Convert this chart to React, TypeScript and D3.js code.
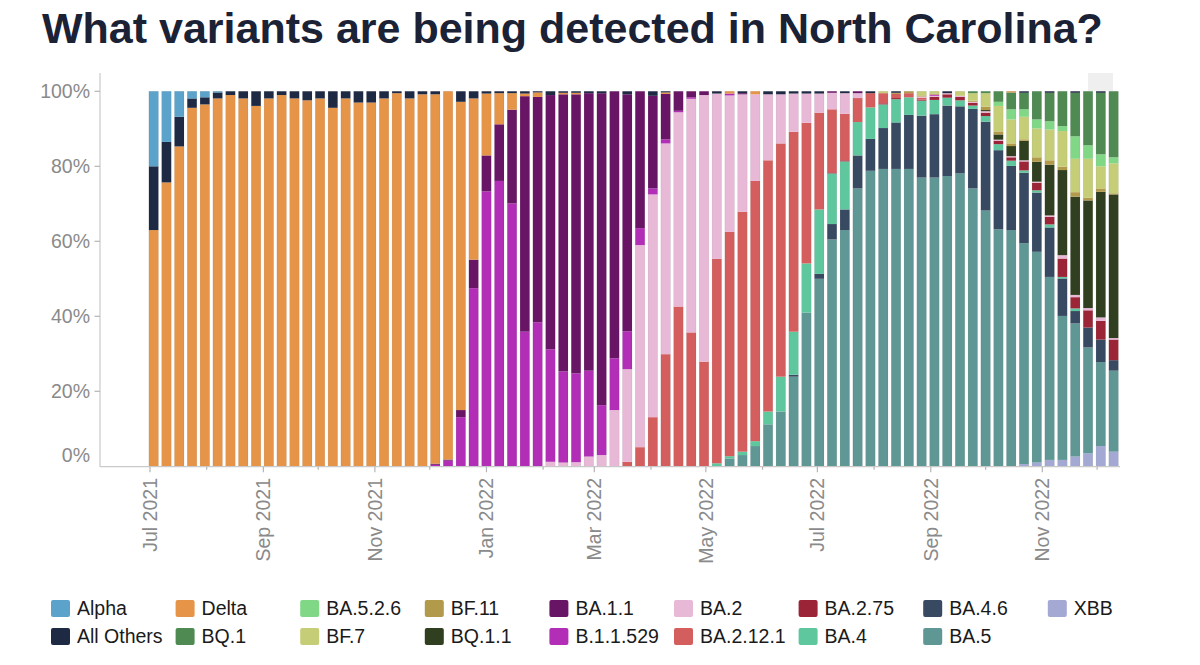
import React from "react";
import * as d3 from "d3";

// Weekly share of sequenced cases by variant (percent), one entry per week ending Saturday
const alpha = [
  20, 13.5, 6.8, 1.9, 1.6, 0.3, 0, 0, 0, 0,
  0, 0, 0, 0, 0, 0, 0, 0, 0, 0,
  0, 0, 0, 0, 0, 0, 0, 0, 0, 0,
  0, 0, 0, 0, 0, 0, 0, 0, 0, 0,
  0, 0, 0, 0, 0, 0, 0, 0, 0, 0,
  0, 0, 0, 0, 0, 0, 0, 0, 0, 0,
  0, 0, 0, 0, 0, 0, 0, 0, 0, 0,
  0, 0, 0, 0, 0, 0,
];
const allOthers = [
  17, 10.8, 7.9, 2.5, 1.9, 1.6, 1.0, 1.9, 3.9, 1.9,
  1.0, 1.9, 2.4, 1.9, 4.4, 1.9, 3.0, 3.0, 1.9, 0.5,
  1.9, 0.8, 0.8, 0, 2.8, 1.9, 0.6, 0.5, 0.5, 0.6,
  0.3, 1.0, 0.4, 0.4, 0.5, 0.5, 0, 0.8, 0, 1.2,
  0.3, 0, 0, 0, 0.6, 0, 0.5, 0, 0.8, 0.8,
  0.6, 0.6, 0.6, 0, 0.5, 0, 0.5, 0, 0.4, 0,
  0, 0, 0.5, 0, 0, 0, 0, 0, 0.4, 0,
  0.4, 0, 0.4, 0, 0.4, 0,
];
const delta = [
  63, 75.7, 85.3, 95.6, 96.5, 98.1, 99, 98.1, 96.1, 98.1,
  99, 98.1, 97.6, 98.1, 95.6, 98.1, 97, 97, 98.1, 99.5,
  98.1, 99.2, 98.5, 98.2, 82.2, 43.0, 16.5, 8.3, 4.4, 0.7,
  1.2, 0, 0.4, 0.4, 0, 0, 0, 0, 0, 0,
  0.4, 0, 0, 0, 0, 0.6, 0, 0.8, 0, 0,
  0, 0, 0, 0, 0, 0, 0, 0, 0, 0,
  0, 0, 0, 0, 0, 0, 0, 0.3, 0, 0,
  0, 0, 0, 0, 0, 0,
];
const bq1 = [
  0, 0, 0, 0, 0, 0, 0, 0, 0, 0,
  0, 0, 0, 0, 0, 0, 0, 0, 0, 0,
  0, 0, 0, 0, 0, 0, 0, 0, 0, 0,
  0, 0, 0, 0, 0, 0, 0, 0, 0, 0,
  0, 0, 0, 0, 0, 0, 0, 0, 0, 0,
  0, 0, 0, 0, 0, 0, 0, 0, 0, 0,
  0, 0, 0, 0, 0.5, 0.5, 2.8, 4.5, 4.4, 7.5,
  7.6, 9.3, 11.6, 14.4, 16.4, 17.6,
];
const ba526 = [
  0, 0, 0, 0, 0, 0, 0, 0, 0, 0,
  0, 0, 0, 0, 0, 0, 0, 0, 0, 0,
  0, 0, 0, 0, 0, 0, 0, 0, 0, 0,
  0, 0, 0, 0, 0, 0, 0, 0, 0, 0,
  0, 0, 0, 0, 0, 0, 0, 0, 0, 0,
  0, 0, 0, 0, 0, 0, 0, 0, 0, 0,
  0, 0, 0, 0, 0, 0, 1.1, 2.7, 2.0, 2.4,
  2.2, 1.3, 6.0, 3.6, 3.2, 1.6,
];
const bf7 = [
  0, 0, 0, 0, 0, 0, 0, 0, 0, 0,
  0, 0, 0, 0, 0, 0, 0, 0, 0, 0,
  0, 0, 0, 0, 0, 0, 0, 0, 0, 0,
  0, 0, 0, 0, 0, 0, 0, 0, 0, 0,
  0, 0, 0, 0, 0, 0, 0, 0, 0, 0,
  0, 0, 0, 0, 0, 0, 0, 0.5, 0, 0,
  1.1, 0.6, 0, 1.2, 2.0, 3.6, 6.8, 6.4, 6.0, 7.7,
  8.2, 9.5, 8.9, 10.4, 5.9, 8.0,
];
const bf11 = [
  0, 0, 0, 0, 0, 0, 0, 0, 0, 0,
  0, 0, 0, 0, 0, 0, 0, 0, 0, 0,
  0, 0, 0, 0, 0, 0, 0, 0, 0, 0,
  0, 0, 0, 0, 0, 0, 0, 0, 0, 0,
  0, 0, 0, 0, 0, 0, 0, 0, 0, 0,
  0, 0, 0, 0, 0, 0, 0, 0, 0.3, 0.5,
  0.3, 0.3, 0, 0, 0.3, 0.9, 0.8, 0.7, 0.4, 1.2,
  1.2, 0.9, 1.2, 0.7, 0.9, 0.3,
];
const bq11 = [
  0, 0, 0, 0, 0, 0, 0, 0, 0, 0,
  0, 0, 0, 0, 0, 0, 0, 0, 0, 0,
  0, 0, 0, 0, 0, 0, 0, 0, 0, 0,
  0, 0, 0, 0, 0, 0, 0, 0, 0, 0,
  0, 0, 0, 0, 0, 0, 0, 0, 0, 0,
  0, 0, 0, 0, 0, 0, 0, 0, 0, 0,
  0, 0, 0, 0, 0, 0.3, 1.4, 2.7, 5.2, 5.3,
  13.5, 22.7, 26.2, 28.7, 33.5, 38.3,
];
const ba11 = [
  0, 0, 0, 0, 0, 0, 0, 0, 0, 0,
  0, 0, 0, 0, 0, 0, 0, 0, 0, 0,
  0, 0, 0.3, 0.3, 1.9, 7.6, 9.6, 15.1, 25.0, 62.8,
  60.1, 67.8, 73.9, 74.4, 74.0, 83.2, 71.2, 63.2, 36.5, 24.7,
  12.1, 5.2, 1.6, 1.0, 0, 0, 0.3, 0, 0, 0,
  0, 0, 0, 0.4, 0, 0.5, 0, 0, 0, 0,
  0, 0, 0, 0, 0, 0, 0, 0, 0, 0,
  0, 0, 0, 0, 0, 0,
];
const b11529 = [
  0, 0, 0, 0, 0, 0, 0, 0, 0, 0,
  0, 0, 0, 0, 0, 0, 0, 0, 0, 0,
  0, 0, 0.4, 1.5, 13.1, 47.5, 73.3, 76.1, 70.1, 35.9,
  38.4, 30.0, 24.3, 23.7, 22.9, 13.3, 13.8, 10.1, 4.5, 1.6,
  1.1, 0.4, 0.4, 0, 0, 0.5, 0, 0, 0, 0,
  0, 0, 0, 0, 0, 0, 0, 0, 0, 0,
  0, 0.3, 0, 0, 0, 0, 0, 0, 0, 0,
  0, 0, 0, 0, 0, 0,
];
const ba2 = [
  0, 0, 0, 0, 0, 0, 0, 0, 0, 0,
  0, 0, 0, 0, 0, 0, 0, 0, 0, 0,
  0, 0, 0, 0, 0, 0, 0, 0, 0, 0,
  0, 1.2, 1.0, 1.1, 2.6, 3.0, 15.0, 24.7, 53.9, 59.4,
  56.2, 51.8, 62.3, 71.1, 44.1, 36.4, 31.3, 23.1, 17.6, 13.1,
  10.2, 7.8, 5.1, 4.4, 5.5, 1.3, 0, 0, 0, 0,
  0.3, 0.3, 0.3, 0.3, 0.3, 0.4, 0.3, 0.3, 0.3, 0.3,
  0.4, 0.9, 0.6, 0.6, 0.9, 0.4,
];
const ba2121 = [
  0, 0, 0, 0, 0, 0, 0, 0, 0, 0,
  0, 0, 0, 0, 0, 0, 0, 0, 0, 0,
  0, 0, 0, 0, 0, 0, 0, 0, 0, 0,
  0, 0, 0, 0, 0, 0, 0, 1.2, 5.1, 13.1,
  29.9, 42.6, 35.7, 27.9, 54.5, 59.8, 64.0, 69.4, 67.0, 62.2,
  53.3, 37.5, 25.8, 16.8, 12.4, 6.4, 3.8, 2.7, 1.1, 1.1,
  0.5, 0, 0, 0, 0, 0, 0, 0, 0, 0,
  0, 0, 0, 0, 0, 0,
];
const ba275 = [
  0, 0, 0, 0, 0, 0, 0, 0, 0, 0,
  0, 0, 0, 0, 0, 0, 0, 0, 0, 0,
  0, 0, 0, 0, 0, 0, 0, 0, 0, 0,
  0, 0, 0, 0, 0, 0, 0, 0, 0, 0,
  0, 0, 0, 0, 0, 0, 0, 0, 0, 0,
  0, 0, 0, 0.3, 0.3, 0, 0, 0.3, 0.3, 0,
  0.3, 0.8, 0.9, 0.9, 0.7, 0.9, 0.9, 0.9, 2.4, 2.0,
  2.0, 4.9, 3.0, 4.6, 5.0, 5.5,
];
const ba4 = [
  0, 0, 0, 0, 0, 0, 0, 0, 0, 0,
  0, 0, 0, 0, 0, 0, 0, 0, 0, 0,
  0, 0, 0, 0, 0, 0, 0, 0, 0, 0,
  0, 0, 0, 0, 0, 0, 0, 0, 0, 0,
  0, 0, 0, 0, 0.8, 0.6, 0.9, 1.3, 3.4, 9.3,
  11.5, 13.1, 17.2, 13.5, 12.8, 8.9, 8.4, 6.3, 6.2, 4.7,
  4.0, 3.8, 2.1, 1.6, 0.9, 1.5, 1.6, 1.4, 0.6, 0.6,
  0.8, 0.4, 0.7, 0, 0, 0,
];
const ba46 = [
  0, 0, 0, 0, 0, 0, 0, 0, 0, 0,
  0, 0, 0, 0, 0, 0, 0, 0, 0, 0,
  0, 0, 0, 0, 0, 0, 0, 0, 0, 0,
  0, 0, 0, 0, 0, 0, 0, 0, 0, 0,
  0, 0, 0, 0, 0, 0, 0, 0, 0, 0,
  0.5, 0, 1.3, 4.1, 5.5, 8.8, 8.5, 10.9, 12.4, 14.4,
  16.5, 16.9, 18.8, 17.9, 21.2, 23.7, 21.1, 17.1, 18.8, 15.8,
  13.2, 10.0, 3.3, 5.3, 6.0, 2.8,
];
const ba5 = [
  0, 0, 0, 0, 0, 0, 0, 0, 0, 0,
  0, 0, 0, 0, 0, 0, 0, 0, 0, 0,
  0, 0, 0, 0, 0, 0, 0, 0, 0, 0,
  0, 0, 0, 0, 0, 0, 0, 0, 0, 0,
  0, 0, 0, 0, 0, 2.1, 3.0, 5.4, 11.2, 14.6,
  23.9, 41.0, 50.0, 60.5, 63.0, 74.1, 78.8, 79.3, 79.3, 79.3,
  77.0, 77.0, 77.4, 78.1, 74.1, 68.2, 63.2, 63.0, 58.9, 56.2,
  48.8, 38.4, 35.5, 28.2, 22.4, 21.6,
];
const xbb = [
  0, 0, 0, 0, 0, 0, 0, 0, 0, 0,
  0, 0, 0, 0, 0, 0, 0, 0, 0, 0,
  0, 0, 0, 0, 0, 0, 0, 0, 0, 0,
  0, 0, 0, 0, 0, 0, 0, 0, 0, 0,
  0, 0, 0, 0, 0, 0, 0, 0, 0, 0,
  0, 0, 0, 0, 0, 0, 0, 0, 0, 0,
  0, 0, 0, 0, 0, 0, 0, 0, 0.6, 1.0,
  1.7, 1.7, 2.6, 3.5, 5.4, 3.9,
];

// Legend order (column-major, two rows)
const legendOrder = [
  "Alpha", "All Others", "Delta", "BQ.1", "BA.5.2.6", "BF.7", "BF.11", "BQ.1.1",
  "BA.1.1", "B.1.1.529", "BA.2", "BA.2.12.1", "BA.2.75", "BA.4", "BA.4.6", "BA.5", "XBB",
];

// Stacking order, bottom to top
const stackOrder = [
  "XBB", "BA.5", "BA.4.6", "BA.4", "BA.2.75", "BA.2.12.1", "BA.2", "B.1.1.529", "BA.1.1",
  "BQ.1.1", "BF.11", "BF.7", "BA.5.2.6", "BQ.1", "Delta", "All Others", "Alpha",
];

const seriesValues: Record<string, number[]> = {
  Alpha: alpha,
  "All Others": allOthers,
  Delta: delta,
  "BQ.1": bq1,
  "BA.5.2.6": ba526,
  "BF.7": bf7,
  "BF.11": bf11,
  "BQ.1.1": bq11,
  "BA.1.1": ba11,
  "B.1.1.529": b11529,
  "BA.2": ba2,
  "BA.2.12.1": ba2121,
  "BA.2.75": ba275,
  "BA.4": ba4,
  "BA.4.6": ba46,
  "BA.5": ba5,
  XBB: xbb,
};

const colors: Record<string, string> = {
  Alpha: "#5ba3cb",
  "All Others": "#1e2a44",
  Delta: "#e69448",
  "BQ.1": "#4f8a53",
  "BA.5.2.6": "#80d886",
  "BF.7": "#c5cd76",
  "BF.11": "#b29a4b",
  "BQ.1.1": "#303f1f",
  "BA.1.1": "#691566",
  "B.1.1.529": "#b22eb6",
  "BA.2": "#e8b8d7",
  "BA.2.12.1": "#d45e5e",
  "BA.2.75": "#9b2437",
  "BA.4": "#5fc79d",
  "BA.4.6": "#384962",
  "BA.5": "#5e9794",
  XBB: "#a3a9d3",
};

const yTicks = [0, 0.2, 0.4, 0.6, 0.8, 1];

// Weeks ending Saturday, 3 Jul 2021 through 10 Dec 2022
const weeks = d3.utcSaturday.range(
  new Date(Date.UTC(2021, 6, 3)),
  new Date(Date.UTC(2022, 11, 11))
);

const FONT = "'Liberation Sans', Arial, Helvetica, sans-serif";

export default function App() {
  const width = 1200;
  const height = 665;

  const x = d3
    .scaleUtc()
    .domain([new Date(Date.UTC(2021, 6, 1)), new Date(Date.UTC(2022, 10, 1))])
    .range([150, 1042.3]);
  const y = d3.scaleLinear().domain([0, 1]).range([466.3, 91.3]);

  const rows = weeks.map((date, i) => {
    const row: any = { date };
    for (const k of stackOrder) row[k] = seriesValues[k][i];
    return row;
  });

  const stacked = d3
    .stack<any>()
    .keys(stackOrder)
    .offset(d3.stackOffsetExpand)(rows);

  const barW = 9.5;
  const axisY = 466.7;
  const axisLeft = 100;
  const axisRight = 1120;

  const months = d3.utcMonth.range(
    new Date(Date.UTC(2021, 6, 1)),
    new Date(Date.UTC(2023, 0, 1))
  );
  const fmt = d3.utcFormat("%b %Y");

  return (
    <svg
      width={width}
      height={height}
      style={{ position: "absolute", left: 0, top: 0, background: "#fff" }}
      fontFamily={FONT}
    >
      <rect width={width} height={height} fill="#fff" />
      <text x={42} y={43} fontSize={43} fontWeight="bold" fill="#1b2235">
        What variants are being detected in North Carolina?
      </text>

      {/* hover band above the bars */}
      <rect x={1088} y={73} width={25} height={18} fill="#efefef" />

      {/* stacked bars */}
      {stacked.map((layer) => (
        <g key={layer.key} fill={colors[layer.key]}>
          {layer.map((seg, i) => {
            const h = y(seg[0]) - y(seg[1]);
            if (h <= 0) return null;
            return (
              <rect
                key={i}
                x={x(rows[i].date) - barW / 2}
                y={y(seg[1])}
                width={barW}
                height={h}
              />
            );
          })}
        </g>
      ))}
      {rows.map((r, i) => (
        <rect
          key={"o" + i}
          x={x(r.date) - barW / 2}
          y={y(1)}
          width={barW}
          height={y(0) - y(1)}
          fill="none"
          stroke="#000"
          strokeOpacity={0.1}
          strokeWidth={0.6}
        />
      ))}

      {/* y axis */}
      <line x1={axisLeft} x2={axisLeft} y1={73} y2={axisY} stroke="#c9c9c9" strokeWidth={1.2} />
      {yTicks.map((t) => (
        <g key={t}>
          {t > 0 && (
            <line x1={axisLeft - 5.5} x2={axisLeft} y1={y(t)} y2={y(t)} stroke="#b5b5b5" strokeWidth={1.2} />
          )}
          <text
            x={90}
            y={t > 0 ? y(t) : 455}
            dy="0.35em"
            textAnchor="end"
            fontSize={19.5}
            fill="#8a8a8a"
          >
            {d3.format(".0%")(t)}
          </text>
        </g>
      ))}

      {/* x axis */}
      <line x1={axisLeft} x2={axisRight} y1={axisY} y2={axisY} stroke="#c9c9c9" strokeWidth={1.2} />
      {months.map((m) => {
        const major = m.getUTCMonth() % 2 === 0;
        const px = x(m);
        return (
          <g key={m.toISOString()}>
            <line
              x1={px}
              x2={px}
              y1={axisY}
              y2={axisY + (major ? 5.5 : 3)}
              stroke="#b5b5b5"
              strokeWidth={1.2}
            />
            {major && (
              <text
                transform={`translate(${px},478) rotate(-90)`}
                dy="0.35em"
                textAnchor="end"
                fontSize={19.5}
                fill="#8a8a8a"
              >
                {fmt(m)}
              </text>
            )}
          </g>
        );
      })}

      {/* legend */}
      {legendOrder.map((k, i) => {
        const col = Math.floor(i / 2);
        const row = i % 2;
        const lx = 51 + 124.6 * col;
        const ly = row === 0 ? 600 : 628;
        return (
          <g key={k}>
            <rect x={lx} y={ly} width={19} height={17} rx={2} fill={colors[k]} />
            <text x={lx + 26} y={ly + 8.5} dy="0.35em" fontSize={19.5} fill="#1a1a1a">
              {k}
            </text>
          </g>
        );
      })}
    </svg>
  );
}
